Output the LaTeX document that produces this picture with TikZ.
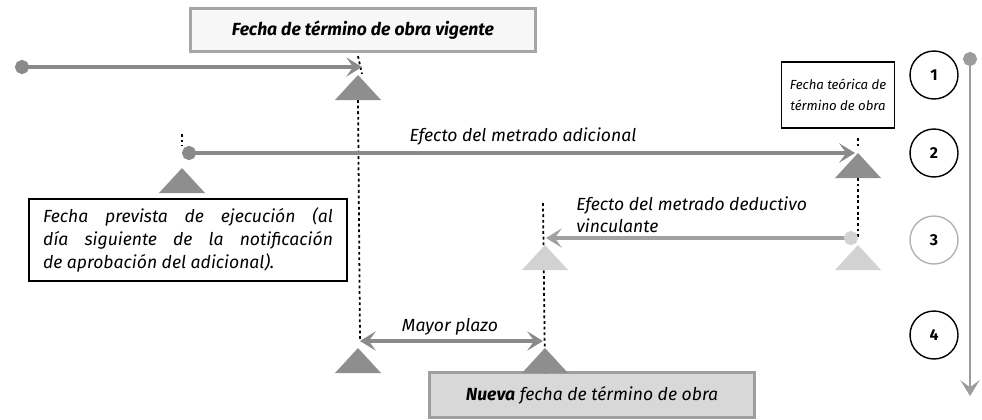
\documentclass[tikz,border=0pt]{standalone}
\usepackage{fontspec}
\setmainfont{Fira Sans}
\usetikzlibrary{arrows.meta}

\definecolor{linegray}{HTML}{8A8A8A}
\definecolor{trigray}{HTML}{8E8E8E}
\definecolor{trilight}{HTML}{D2D2D2}
\definecolor{boxgray}{HTML}{D8D8D8}

\begin{document}
\begin{tikzpicture}[x=0.02cm, y=-0.02cm,
  every node/.style={font=\itshape\fontsize{10}{13}\selectfont, inner sep=0pt},
  garrow/.style={draw=linegray, line width=2.2pt, -{Stealth[length=9pt, width=11pt, inset=4pt]}},
  gball/.style={{Circle[length=8pt]}-{Stealth[length=9pt, width=11pt, inset=4pt]}},
  dots/.style={draw=black, line width=1pt, dash pattern=on 1.6pt off 1.6pt},
  tri/.style={fill=trigray},
  trilt/.style={fill=trilight},
  topbox/.style={draw=gray!70, line width=1.6pt, fill=gray!6, minimum width=6.9cm, minimum height=0.86cm},
  whitebox/.style={draw=black, line width=0.8pt, fill=white, inner sep=5pt},
  graybox/.style={draw=gray!75, line width=1.6pt, fill=boxgray, minimum width=6.5cm, minimum height=0.9cm},
  num/.style={circle, draw=black, line width=0.8pt, minimum size=0.96cm, font=\bfseries\fontsize{9}{9}\selectfont}]
  \useasboundingbox (0,0) rectangle (982,419);
  \coordinate (a1s) at (15,67);
  \coordinate (a1e) at (362,67);
  \coordinate (a2s) at (182,153);
  \coordinate (a2e) at (855,153);
  \coordinate (a3s) at (858,238);
  \coordinate (a3e) at (546,238);
  \coordinate (m1) at (360,341);
  \coordinate (m2) at (543,341);
  \coordinate (vs) at (970,52);
  \coordinate (ve) at (970,396);
  \coordinate (t1) at (358,100);
  \coordinate (t2) at (182,193);
  \coordinate (t3) at (858,178);
  \coordinate (t4) at (545,270);
  \coordinate (t5) at (858,270);
  \coordinate (t6) at (358,373);
  \coordinate (t7) at (545,373);
  \coordinate (d1) at (358,56);
  \coordinate (d2) at (182,134);
  \coordinate (d3) at (858,138);
  \coordinate (d4) at (543,203);
  \node[topbox] (vig) at (363,30) {\bfseries Fecha de término de obra vigente};
  \node[whitebox, inner sep=0pt, minimum width=2.26cm, minimum height=1.32cm, align=center, font=\itshape\fontsize{7.5}{12}\selectfont] (teo) at (838,95) {Fecha teórica de\\término de obra};
  \node[whitebox, inner xsep=8pt, text width=5.8cm, align=justify] (prev) at (188,240) {Fecha prevista de ejecución (al día siguiente de la notificación\linebreak de aprobación del adicional).};
  \node[graybox] (nueva) at (592,395) {\textbf{Nueva} fecha de término de obra};
  \node (ladic) at (523,137) {Efecto del metrado adicional};
  \node[anchor=north west, align=left] (lded) at (576,196) {Efecto del metrado deductivo\\vinculante};
  \node (lmay) at (450,327) {Mayor plazo};
  \node[num] (n1) at (934,75) {1};
  \node[num] (n2) at (934,153) {2};
  \node[num, draw=gray!60] (n3) at (934,240) {3};
  \node[num] (n4) at (934,335) {4};
  \draw[dots] (d1) -- (a1e |- 0,74);
  \draw[dots] (t1) -- (m1);
  \draw[dots] (d2) -- (182,146);
  \draw[dots] (d3) -- (858,148);
  \draw[dots] (t3) -- (a3s);
  \draw[dots] (d4) -- (t7);
  \fill[tri] (t1) -- ++(-23,0) -- ++(23,-25) -- ++(23,25) -- cycle;
  \fill[tri] (t2) -- ++(-23,0) -- ++(23,-25) -- ++(23,25) -- cycle;
  \fill[tri] (t3) -- ++(-23,0) -- ++(23,-25) -- ++(23,25) -- cycle;
  \fill[trilt] (t4) -- ++(-23,0) -- ++(23,-25) -- ++(23,25) -- cycle;
  \fill[trilt] (t5) -- ++(-23,0) -- ++(23,-25) -- ++(23,25) -- cycle;
  \fill[tri] (t6) -- ++(-23,0) -- ++(23,-25) -- ++(23,25) -- cycle;
  \fill[tri] (t7) -- ++(-23,0) -- ++(23,-25) -- ++(23,25) -- cycle;
  \draw[garrow, gball] (a1s) -- (a1e);
  \draw[garrow, gball] (a2s) -- (a2e);
  \draw[garrow, draw=linegray!80, {Circle[length=8pt, color=trilight]}-{Stealth[length=9pt, width=11pt, inset=4pt]}] (a3s) -- (a3e);
  \draw[garrow, {Stealth[length=9pt, width=11pt, inset=4pt]}-{Stealth[length=9pt, width=11pt, inset=4pt]}] (m1) -- (m2);
  \draw[garrow, gball, line width=1.6pt, draw=linegray!85] (vs) -- (ve);
\end{tikzpicture}
\end{document}
